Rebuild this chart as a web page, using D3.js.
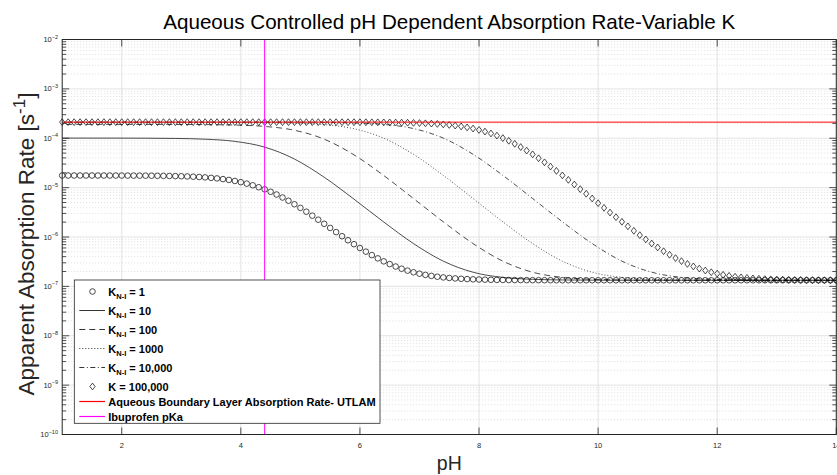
<!DOCTYPE html>
<html>
<head>
<meta charset="utf-8">
<script src="https://cdn.jsdelivr.net/npm/d3@7"></script>
<style>
  body { margin: 0; background: #fff; }
  svg { display: block; font-family: "Liberation Sans", Arial, Helvetica, sans-serif; }
</style>
</head>
<body>
<svg width="837" height="475"></svg>
<script>
// pH grid of the marker series (0.1 steps)
const phMarkers = [
  1.0,1.1,1.2,1.3,1.4,1.5,1.6,1.7,1.8,1.9,
  2.0,2.1,2.2,2.3,2.4,2.5,2.6,2.7,2.8,2.9,
  3.0,3.1,3.2,3.3,3.4,3.5,3.6,3.7,3.8,3.9,
  4.0,4.1,4.2,4.3,4.4,4.5,4.6,4.7,4.8,4.9,
  5.0,5.1,5.2,5.3,5.4,5.5,5.6,5.7,5.8,5.9,
  6.0,6.1,6.2,6.3,6.4,6.5,6.6,6.7,6.8,6.9,
  7.0,7.1,7.2,7.3,7.4,7.5,7.6,7.7,7.8,7.9,
  8.0,8.1,8.2,8.3,8.4,8.5,8.6,8.7,8.8,8.9,
  9.0,9.1,9.2,9.3,9.4,9.5,9.6,9.7,9.8,9.9,
  10.0,10.1,10.2,10.3,10.4,10.5,10.6,10.7,10.8,10.9,
  11.0,11.1,11.2,11.3,11.4,11.5,11.6,11.7,11.8,11.9,
  12.0,12.1,12.2,12.3,12.4,12.5,12.6,12.7,12.8,12.9,
  13.0,13.1,13.2,13.3,13.4,13.5,13.6,13.7,13.8,13.9,
  14.0
];

// log10 of the apparent rate, K = 1 (circles)
const logRateK1 = [
  -4.7545,-4.7545,-4.7546,-4.7546,-4.7547,-4.7548,-4.7549,-4.7551,-4.7553,-4.7556,
  -4.7559,-4.7564,-4.7569,-4.7575,-4.7583,-4.7593,-4.7606,-4.7622,-4.7642,-4.7668,
  -4.7699,-4.7739,-4.7788,-4.7849,-4.7924,-4.8018,-4.8133,-4.8273,-4.8444,-4.8649,
  -4.8895,-4.9186,-4.9526,-4.9920,-5.0341,-5.0841,-5.1395,-5.2003,-5.2660,-5.3362,
  -5.4103,-5.4876,-5.5676,-5.6495,-5.7328,-5.8167,-5.9006,-5.9838,-6.0658,-6.1457,
  -6.2229,-6.2969,-6.3669,-6.4325,-6.4931,-6.5484,-6.5982,-6.6424,-6.6811,-6.7146,
  -6.7432,-6.7674,-6.7877,-6.8045,-6.8183,-6.8296,-6.8389,-6.8463,-6.8523,-6.8572,
  -6.8611,-6.8642,-6.8667,-6.8687,-6.8703,-6.8715,-6.8725,-6.8733,-6.8740,-6.8745,
  -6.8749,-6.8752,-6.8755,-6.8757,-6.8759,-6.8760,-6.8761,-6.8762,-6.8763,-6.8763,
  -6.8764,-6.8764,-6.8764,-6.8764,-6.8764,-6.8764,-6.8764,-6.8764,-6.8764,-6.8764,
  -6.8764,-6.8764,-6.8764,-6.8764,-6.8764,-6.8765,-6.8765,-6.8765,-6.8765,-6.8765,
  -6.8765,-6.8765,-6.8765,-6.8765,-6.8765,-6.8765,-6.8765,-6.8765,-6.8765,-6.8765,
  -6.8765,-6.8765,-6.8765,-6.8765,-6.8765,-6.8765,-6.8765,-6.8765,-6.8765,-6.8765,
  -6.8765
];

// log10 of the apparent rate, K = 100,000 (diamonds)
const logRateK100000 = [
  -3.6737,-3.6737,-3.6737,-3.6737,-3.6737,-3.6737,-3.6737,-3.6737,-3.6737,-3.6737,
  -3.6737,-3.6737,-3.6737,-3.6737,-3.6738,-3.6738,-3.6738,-3.6738,-3.6738,-3.6738,
  -3.6738,-3.6738,-3.6738,-3.6738,-3.6738,-3.6738,-3.6738,-3.6738,-3.6738,-3.6738,
  -3.6738,-3.6738,-3.6738,-3.6738,-3.6738,-3.6738,-3.6739,-3.6739,-3.6739,-3.6739,
  -3.6739,-3.6740,-3.6740,-3.6741,-3.6742,-3.6743,-3.6745,-3.6747,-3.6749,-3.6752,
  -3.6756,-3.6761,-3.6767,-3.6775,-3.6785,-3.6797,-3.6813,-3.6832,-3.6856,-3.6886,
  -3.6924,-3.6971,-3.7030,-3.7102,-3.7192,-3.7302,-3.7437,-3.7601,-3.7800,-3.8038,
  -3.8319,-3.8649,-3.9032,-3.9471,-3.9966,-4.0518,-4.1127,-4.1789,-4.2499,-4.3254,
  -4.4048,-4.4876,-4.5733,-4.6615,-4.7516,-4.8433,-4.9364,-5.0303,-5.1249,-5.2198,
  -5.3149,-5.4099,-5.5046,-5.5986,-5.6918,-5.7838,-5.8742,-5.9627,-6.0489,-6.1322,
  -6.2122,-6.2883,-6.3601,-6.4271,-6.4887,-6.5450,-6.5955,-6.6402,-6.6794,-6.7132,
  -6.7421,-6.7666,-6.7870,-6.8040,-6.8179,-6.8293,-6.8386,-6.8461,-6.8522,-6.8570,
  -6.8609,-6.8641,-6.8666,-6.8686,-6.8702,-6.8714,-6.8724,-6.8733,-6.8739,-6.8745,
  -6.8749
];

// pH grid of the line series (clipped at the axes)
const phLines = [0.9,1.4,1.9,2.4,2.9,3.4,3.9,4.4,4.9,5.4,5.9,6.4,6.9,7.4,
                 7.9,8.4,8.9,9.4,9.9,10.4,10.9,11.4,11.9,12.4,12.9,13.4,13.9,14.4];

const logRateK10 = [-3.9968,-3.9970,-3.9974,-3.9990,-4.0039,-4.0190,-4.0634,-4.1797,
  -4.4207,-4.7897,-5.2330,-5.6961,-6.1336,-6.4892,-6.7134,-6.8179,-6.8570,-6.8702,
  -6.8745,-6.8759,-6.8763,-6.8764,-6.8765,-6.8765,-6.8765,-6.8765,-6.8765,-6.8765];
const logRateK100 = [-3.7192,-3.7192,-3.7194,-3.7196,-3.7205,-3.7235,-3.7326,-3.7603,
  -3.8379,-4.0188,-4.3359,-4.7556,-5.2212,-5.6922,-6.1323,-6.4888,-6.7133,-6.8179,
  -6.8570,-6.8702,-6.8746,-6.8759,-6.8763,-6.8764,-6.8765,-6.8765,-6.8765,-6.8765];
const logRateK1000 = [-3.6784,-3.6785,-3.6785,-3.6786,-3.6787,-3.6789,-3.6799,-3.6832,
  -3.6932,-3.7235,-3.8072,-3.9989,-4.3264,-4.7520,-5.2200,-5.6918,-6.1322,-6.4887,
  -6.7132,-6.8179,-6.8570,-6.8702,-6.8746,-6.8759,-6.8763,-6.8764,-6.8765,-6.8765];
const logRateK10000 = [-3.6741,-3.6742,-3.6742,-3.6742,-3.6743,-3.6743,-3.6744,-3.6746,
  -3.6757,-3.6789,-3.6890,-3.7196,-3.8040,-3.9968,-4.3255,-4.7517,-5.2199,-5.6918,
  -6.1322,-6.4887,-6.7132,-6.8179,-6.8570,-6.8702,-6.8746,-6.8759,-6.8763,-6.8764];

const logUtlam = -3.6737;   // aqueous boundary layer rate
const pKa = 4.4;            // ibuprofen
const phRange = [1, 14];
const xTicks = [2, 4, 6, 8, 10, 12, 14];
const yExponents = [-10, -9, -8, -7, -6, -5, -4, -3, -2];
const minorMultipliers = [2, 3, 4, 5, 6, 7, 8, 9];

const axisColor = "#262626";
const svg = d3.select("svg");

let x = d3.scaleLinear().domain(phRange).range([62.2, 836.3]);
let y = d3.scaleLog().domain([1e-10, 1e-2]).range([434.5, 39.5]);

let majorY = yExponents.map(e => Math.pow(10, e));
let minorY = [];
yExponents.slice(0, -1).forEach(e => minorMultipliers.forEach(m => minorY.push(m * Math.pow(10, e))));

// grid
let grid = svg.append("g");
grid.selectAll(".minor").data(minorY).enter().append("line")
    .attr("x1", x(phRange[0])).attr("x2", x(phRange[1]))
    .attr("y1", d => y(d)).attr("y2", d => y(d))
    .attr("stroke", "#c8c8c8").attr("stroke-width", 0.6).attr("stroke-dasharray", "1,2");
grid.selectAll(".majorY").data(majorY).enter().append("line")
    .attr("x1", x(phRange[0])).attr("x2", x(phRange[1]))
    .attr("y1", d => y(d)).attr("y2", d => y(d))
    .attr("stroke", "#dcdcdc").attr("stroke-width", 0.8);
grid.selectAll(".majorX").data(xTicks).enter().append("line")
    .attr("x1", d => x(d)).attr("x2", d => x(d))
    .attr("y1", y(1e-10)).attr("y2", y(1e-2))
    .attr("stroke", "#dcdcdc").attr("stroke-width", 0.8);

// clip for lines
svg.append("defs").append("clipPath").attr("id", "plot")
    .append("rect").attr("x", x(phRange[0])).attr("y", y(1e-2))
    .attr("width", x(phRange[1]) - x(phRange[0])).attr("height", y(1e-10) - y(1e-2));

let curve = d3.line()
    .x(d => x(d[0]))
    .y(d => y(Math.pow(10, d[1])))
    .curve(d3.curveMonotoneX);

let diamond = "M0,-3.4L2.6,0L0,3.4L-2.6,0Z";

let series = [
  { label: "= 1", sub: true, marker: "circle", ph: phMarkers, v: logRateK1 },
  { label: "= 10", sub: true, dash: null, ph: phLines, v: logRateK10 },
  { label: "= 100", sub: true, dash: "6,4", ph: phLines, v: logRateK100 },
  { label: "= 1000", sub: true, dash: "1,2", ph: phLines, v: logRateK1000 },
  { label: "= 10,000", sub: true, dash: "5,2.5,1,2.5", ph: phLines, v: logRateK10000 },
  { label: "K = 100,000", sub: false, marker: "diamond", ph: phMarkers, v: logRateK100000 }
];

let plot = svg.append("g");
series.forEach(s => {
  let pts = s.ph.map((p, i) => [p, s.v[i]]);
  if (s.marker === "circle") {
    plot.append("g").selectAll("circle").data(pts).enter().append("circle")
        .attr("cx", d => x(d[0])).attr("cy", d => y(Math.pow(10, d[1])))
        .attr("r", 2.8).attr("fill", "none").attr("stroke", "#000").attr("stroke-width", 0.7);
  } else if (s.marker === "diamond") {
    plot.append("g").selectAll("path").data(pts).enter().append("path")
        .attr("d", diamond)
        .attr("transform", d => "translate(" + x(d[0]) + "," + y(Math.pow(10, d[1])) + ")")
        .attr("fill", "none").attr("stroke", "#000").attr("stroke-width", 0.7);
  } else {
    plot.append("path").datum(pts)
        .attr("clip-path", "url(#plot)")
        .attr("d", curve)
        .attr("fill", "none").attr("stroke", "#000").attr("stroke-width", 0.7)
        .attr("stroke-dasharray", s.dash);
  }
});

// aqueous boundary layer rate and pKa
plot.append("line")
    .attr("x1", x(phRange[0])).attr("x2", x(phRange[1]))
    .attr("y1", y(Math.pow(10, logUtlam))).attr("y2", y(Math.pow(10, logUtlam)))
    .attr("stroke", "#ff0000").attr("stroke-width", 1);
plot.append("line")
    .attr("x1", x(pKa)).attr("x2", x(pKa))
    .attr("y1", y(1e-10)).attr("y2", y(1e-2))
    .attr("stroke", "#ff00ff").attr("stroke-width", 1);

// axes box and ticks
let axes = svg.append("g").attr("stroke", axisColor);
axes.append("rect")
    .attr("x", x(phRange[0])).attr("y", y(1e-2))
    .attr("width", x(phRange[1]) - x(phRange[0])).attr("height", y(1e-10) - y(1e-2))
    .attr("fill", "none").attr("stroke-width", 1);

let xt = axes.append("g");
xTicks.forEach(t => {
  xt.append("line").attr("x1", x(t)).attr("x2", x(t)).attr("y1", y(1e-10)).attr("y2", y(1e-10) - 7).attr("stroke-width", 0.8);
  xt.append("line").attr("x1", x(t)).attr("x2", x(t)).attr("y1", y(1e-2)).attr("y2", y(1e-2) + 7).attr("stroke-width", 0.8);
});
let yt = axes.append("g");
majorY.forEach(t => {
  yt.append("line").attr("x1", x(1)).attr("x2", x(1) + 7).attr("y1", y(t)).attr("y2", y(t)).attr("stroke-width", 0.8);
  yt.append("line").attr("x1", x(14)).attr("x2", x(14) - 7).attr("y1", y(t)).attr("y2", y(t)).attr("stroke-width", 0.8);
});
minorY.forEach(t => {
  yt.append("line").attr("x1", x(1)).attr("x2", x(1) + 4).attr("y1", y(t)).attr("y2", y(t)).attr("stroke-width", 0.8);
  yt.append("line").attr("x1", x(14)).attr("x2", x(14) - 4).attr("y1", y(t)).attr("y2", y(t)).attr("stroke-width", 0.8);
});

// tick labels
svg.append("g").selectAll("text").data(xTicks).enter().append("text")
    .attr("x", d => x(d)).attr("y", 448)
    .attr("text-anchor", "middle").attr("font-size", 7.5).attr("fill", axisColor)
    .text(d => d);

let yl = svg.append("g").selectAll("text").data(yExponents).enter().append("text")
    .attr("x", 58).attr("y", d => y(Math.pow(10, d)) + 2.6)
    .attr("text-anchor", "end").attr("font-size", 7.5).attr("fill", axisColor);
yl.append("tspan").text("10");
yl.append("tspan").attr("dy", -3.5).attr("font-size", 5.5).text(d => "\u2212" + Math.abs(d));

// title and labels
svg.append("text").attr("x", x(7.5)).attr("y", 29)
    .attr("text-anchor", "middle").attr("font-size", 20.6).attr("fill", "#000")
    .text("Aqueous Controlled pH Dependent Absorption Rate-Variable K");
svg.append("text").attr("x", x(7.5)).attr("y", 470)
    .attr("text-anchor", "middle").attr("font-size", 19.5).attr("fill", axisColor)
    .text("pH");
let ylab = svg.append("text")
    .attr("transform", "translate(34,244) rotate(-90)")
    .attr("text-anchor", "middle").attr("font-size", 22.5).attr("fill", axisColor);
ylab.append("tspan").text("Apparent Absorption Rate [s");
ylab.append("tspan").attr("dy", -9).attr("font-size", 17).text("-1");
ylab.append("tspan").attr("dy", 9).text("]");

// legend
let legendRows = [291.5, 310.5, 329.5, 348.5, 367.5, 386.5, 401.5, 416.5];
let lg = svg.append("g");
lg.append("rect").attr("x", 74.3).attr("y", 280).attr("width", 305.7).attr("height", 143.3)
    .attr("fill", "#fff").attr("stroke", axisColor).attr("stroke-width", 0.8);

let legendItems = series.map(s => ({ s: s, color: "#000", text: s.label }));
legendItems.push({ s: { dash: null }, color: "#ff0000", text: "Aqueous Boundary Layer Absorption Rate- UTLAM" });
legendItems.push({ s: { dash: null }, color: "#ff00ff", text: "Ibuprofen pKa" });

legendItems.forEach((it, i) => {
  let ry = legendRows[i];
  if (it.s.marker === "circle") {
    lg.append("circle").attr("cx", 92.5).attr("cy", ry).attr("r", 2.8)
      .attr("fill", "none").attr("stroke", "#000").attr("stroke-width", 0.7);
  } else if (it.s.marker === "diamond") {
    lg.append("path").attr("d", diamond).attr("transform", "translate(92.5," + ry + ")")
      .attr("fill", "none").attr("stroke", "#000").attr("stroke-width", 0.7);
  } else {
    lg.append("line").attr("x1", 79.3).attr("x2", 105).attr("y1", ry).attr("y2", ry)
      .attr("stroke", it.color).attr("stroke-width", it.color === "#000" ? 0.8 : 1.2)
      .attr("stroke-dasharray", it.s.dash);
  }
  let t = lg.append("text").attr("x", 108.3).attr("y", ry + 4)
      .attr("font-size", 11).attr("font-weight", "bold").attr("fill", "#000");
  if (it.s.sub) {
    t.append("tspan").text("K");
    t.append("tspan").attr("dy", 3).attr("font-size", 7.5).text("N-I");
    t.append("tspan").attr("dy", -3).text(" " + it.text);
  } else {
    t.text(it.text);
  }
});
</script>
</body>
</html>
